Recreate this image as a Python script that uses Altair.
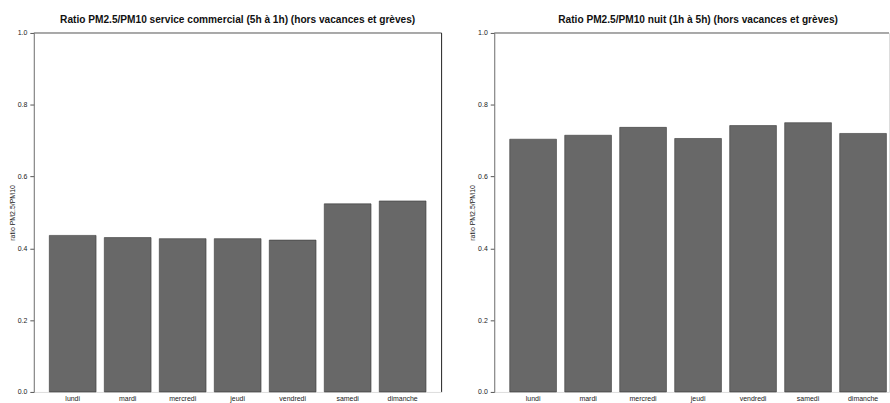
import altair as alt
import pandas as pd

# Weekday categories and PM2.5/PM10 ratio per day
jours = ["lundi", "mardi", "mercredi", "jeudi", "vendredi", "samedi", "dimanche"]
ratio_service = [0.436, 0.430, 0.427, 0.427, 0.423, 0.524, 0.532]
ratio_nuit = [0.704, 0.715, 0.737, 0.706, 0.742, 0.750, 0.720]

titre_service = "Ratio PM2.5/PM10 service commercial (5h à 1h) (hors vacances et grèves)"
titre_nuit = "Ratio PM2.5/PM10 nuit (1h à 5h) (hors vacances et grèves)"
y_ticks = [0.0, 0.2, 0.4, 0.6, 0.8, 1.0]

FONT = "Liberation Sans"
W, H = 410, 361      # full plotting region of one panel
W_RIGHT = 397         # the second panel is cut at the page edge

# band layouts: same step and bar width in both panels
SCALE_LEFT = dict(paddingInner=0.15, paddingOuter=0.282, align=0.5)
SCALE_RIGHT = dict(paddingInner=0.15, paddingOuter=0.1645, align=0.857)


def panel(values, title, view_w, band, right_frame, title_dx):
    df = pd.DataFrame({"jour": jours, "ratio": values})
    bars = alt.Chart(df).mark_bar(
        color="#686868", stroke="#3a3a3a", strokeWidth=0.6
    ).encode(
        x=alt.X(
            "jour:N",
            sort=jours,
            scale=alt.Scale(**band),
            axis=alt.Axis(
                title=None, labelAngle=0, domain=False, ticks=False,
                labelFontSize=7, labelFont=FONT, labelColor="#222",
                labelPadding=3,
            ),
        ),
        y=alt.Y(
            "ratio:Q",
            scale=alt.Scale(domain=[0, 1], nice=False, zero=True),
            axis=alt.Axis(
                title="ratio PM2.5/PM10", values=y_ticks, format=".1f",
                grid=False, tickSize=4, tickColor="#555", domainColor="#777",
                labelFontSize=7, labelFont=FONT, labelColor="#222",
                labelPadding=3, titleFontSize=7, titleFont=FONT,
                titleFontWeight="normal", titleColor="#222", titlePadding=2,
            ),
        ),
    )
    frame = pd.DataFrame({"k": [0]})
    layers = [bars]
    layers.append(
        alt.Chart(frame).mark_rule(color="#666", strokeWidth=1).encode(
            x=alt.value(0), x2=alt.value(view_w), y=alt.value(0)
        )
    )
    if right_frame:
        layers.append(
            alt.Chart(frame).mark_rule(color="#333", strokeWidth=1).encode(
                x=alt.value(view_w), y=alt.value(0), y2=alt.value(H)
            )
        )
    return alt.layer(*layers).properties(
        width=view_w,
        height=H,
        title=alt.TitleParams(
            title, fontSize=10.2, fontWeight="bold", font=FONT, color="#111",
            anchor="middle", offset=4, dx=title_dx,
        ),
    )


chart = (
    alt.hconcat(
        panel(ratio_service, titre_service, W, SCALE_LEFT, True, 0),
        panel(ratio_nuit, titre_nuit, W_RIGHT, SCALE_RIGHT, False, (W - W_RIGHT) / 2),
        spacing=25,
    )
    .properties(padding={"left": 7, "top": 13, "right": 0, "bottom": 0})
    .configure_view(stroke=None)
    .configure(background="white")
)

chart.save("out.html", embed_options={"renderer": "svg", "actions": False})
